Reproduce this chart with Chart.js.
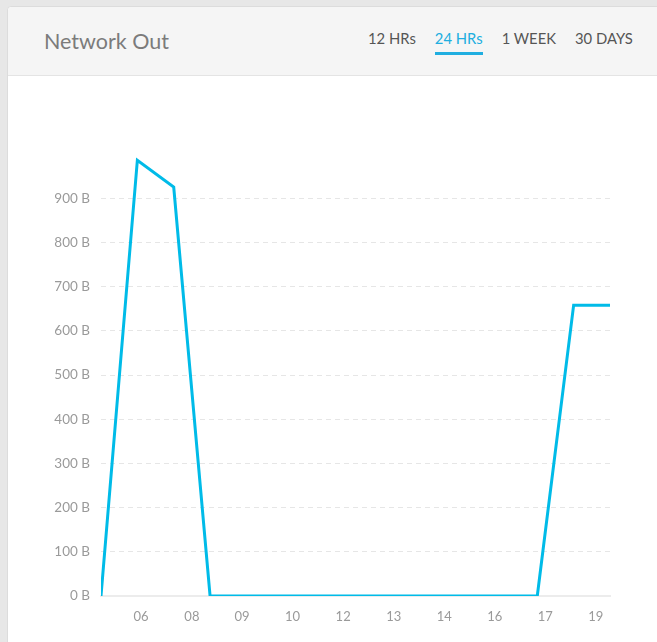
<!DOCTYPE html>
<html>
<head>
<meta charset="utf-8">
<script src="https://cdn.jsdelivr.net/npm/chart.js@4/dist/chart.umd.min.js"></script>
<style>
    html, body { margin: 0; padding: 0; }
    body {
        width: 657px; height: 642px; overflow: hidden; position: relative;
        background: #e7e7e7; font-family: Lato, "Open Sans", sans-serif;
    }
    .card {
        position: absolute; left: 7px; top: 6px; width: 680px; height: 680px;
        background: #fff; border: 1px solid #dcdcdc; border-radius: 4px;
    }
    .card-header {
        height: 68px; background: #f5f5f5; border-bottom: 1px solid #e4e4e4;
        border-radius: 4px 4px 0 0; position: relative;
    }
    .card-title {
        position: absolute; left: 36px; top: 21px;
        font-size: 21.5px; color: #7b7b7b; font-weight: 400;
    }
    .tabs { position: absolute; top: 21px; left: 360px; white-space: nowrap; }
    .tabs span {
        display: inline-block; font-size: 14.8px; color: #555; margin-right: 19px;
        padding-bottom: 5px; border-bottom: 3px solid transparent;
    }
    .tabs span.active { color: #20aee0; border-bottom-color: #20aee0; }
    #chart-wrap { position: absolute; left: 0; top: 76px; width: 657px; height: 566px; }
</style>
</head>
<body>
<div class="card">
    <div class="card-header">
        <div class="card-title">Network Out</div>
        <div class="tabs">
            <span>12 HRs</span><span class="active">24 HRs</span><span>1 WEEK</span><span>30 DAYS</span>
        </div>
    </div>
</div>
<div id="chart-wrap"><canvas id="netOutChart"></canvas></div>
<script>
// samples, one per step on the x axis
const sampleIndex = [0, 1, 2, 3, 4, 5, 6, 7, 8, 9, 10, 11, 12, 13, 14];
const bytesOut = [0, 986, 925, 0, 0, 0, 0, 0, 0, 0, 0, 0, 0, 658, 658];

// hour labels and where they sit along the sample axis
const hourLabels = ['06', '08', '09', '10', '12', '13', '14', '16', '17', '19'];
const hourTickPos = [1.1, 2.5, 3.88, 5.27, 6.66, 8.05, 9.44, 10.83, 12.22, 13.61];

const yTicks = [0, 100, 200, 300, 400, 500, 600, 700, 800, 900];

document.addEventListener("DOMContentLoaded", function() {
    const ctx = document.getElementById('netOutChart').getContext('2d');
    const points = sampleIndex.map((x, i) => ({ x: x, y: bytesOut[i] }));

    new Chart(ctx, {
        type: 'line',
        data: {
            datasets: [{
                data: points,
                borderColor: '#00bbe8',
                borderWidth: 3,
                pointRadius: 0,
                tension: 0,
                fill: false
            }]
        },
        options: {
            responsive: true,
            maintainAspectRatio: false,
            animation: false,
            layout: { padding: { top: 78, right: 47, left: 0, bottom: 0 } },
            plugins: { legend: { display: false }, tooltip: { enabled: false } },
            scales: {
                x: {
                    type: 'linear',
                    min: 0,
                    max: sampleIndex[sampleIndex.length - 1],
                    afterBuildTicks: axis => { axis.ticks = hourTickPos.map(v => ({ value: v })); },
                    afterFit: axis => { axis.height = 46; },
                    grid: { display: false, drawTicks: false },
                    border: { display: true, color: '#ececec', width: 2 },
                    ticks: {
                        padding: 13,
                        maxRotation: 0,
                        autoSkip: false,
                        color: '#9a9a9a',
                        font: { family: 'Lato', size: 13 },
                        callback: (v, i) => hourLabels[i]
                    }
                },
                y: {
                    min: 0,
                    max: 1000,
                    afterBuildTicks: axis => { axis.ticks = yTicks.map(v => ({ value: v })); },
                    afterFit: axis => { axis.width = 101; },
                    grid: {
                        drawTicks: false,
                        color: c => c.tick && c.tick.value === 0 ? 'rgba(0,0,0,0)' : '#e6e6e6',
                        lineWidth: 1
                    },
                    border: { display: false, dash: [5, 4] },
                    ticks: {
                        padding: 11,
                        color: '#9a9a9a',
                        font: { family: 'Lato', size: 13.5 },
                        callback: v => v + ' B'
                    }
                }
            }
        }
    });
});
</script>
</body>
</html>
